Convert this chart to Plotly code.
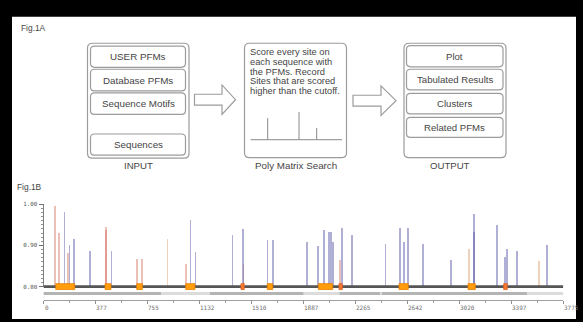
import plotly.graph_objects as go

# ---------------- data ----------------
blue_pos = [149, 185, 221, 335, 490, 1064, 1100, 1369, 1442, 1623, 1662, 1908, 1993, 2032, 2068, 2084,
            2097, 2163, 2235, 2480, 2583, 2616, 2645, 2750, 2956, 3126, 3126, 3293, 3346, 3364, 3434, 3656]
blue_score = [0.980, 0.901, 0.914, 0.886, 0.885, 0.961, 0.884, 0.924, 0.940, 0.913, 0.912, 0.908, 0.899,
              0.936, 0.933, 0.932, 0.907, 0.941, 0.924, 0.902, 0.941, 0.908, 0.941, 0.904, 0.865, 0.975,
              0.933, 0.950, 0.872, 0.892, 0.886, 0.900]
pink_pos = [83, 110, 176, 447, 452, 672, 715, 1033, 1449, 2153]
pink_score = [0.995, 0.930, 0.882, 0.945, 0.938, 0.866, 0.867, 0.854, 0.854, 0.864]
tan_pos = [897, 3084, 3593]
tan_score = [0.916, 0.892, 0.861]

# exon-like boxes on the sequence line (start, end)
box_start = [89, 447, 677, 1033, 1625, 1996, 2582, 3083]
box_end = [227, 490, 718, 1100, 1665, 2100, 2649, 3136]
mark_start = [1434, 2146, 3342]
mark_end = [1458, 2170, 3368]

# darker gray segments under the sequence line (start, end)
seg_start = [0, 1209, 2151, 2458]
seg_end = [853, 1887, 2444, 3511]

seq_len = 3775
x_tick_labels = ["0", "377", "755", "1132", "1510", "1887", "2265", "2642", "3020", "3397", "3775"]
y_tick_vals = [0.80, 0.90, 1.00]
y_tick_text = ["0.80", "0.90", "1.00"]

input_items = ["USER PFMs", "Database PFMs", "Sequence Motifs", "Sequences"]
output_items = ["Plot", "Tabulated Results", "Clusters", "Related PFMs"]
search_text = ["Score every site on", "each sequence with", "the PFMs. Record",
               "Sites that are scored", "higher than the cutoff."]

# ---------------- helpers (pixel -> paper) ----------------
W, H = 583, 322


def X(x):
    return x / W


def Y(y):
    return 1 - y / H


def rrect(x0, y0, x1, y1, r):
    p = (f"M {X(x0 + r)},{Y(y0)} L {X(x1 - r)},{Y(y0)} Q {X(x1)},{Y(y0)} {X(x1)},{Y(y0 + r)} "
         f"L {X(x1)},{Y(y1 - r)} Q {X(x1)},{Y(y1)} {X(x1 - r)},{Y(y1)} "
         f"L {X(x0 + r)},{Y(y1)} Q {X(x0)},{Y(y1)} {X(x0)},{Y(y1 - r)} "
         f"L {X(x0)},{Y(y0 + r)} Q {X(x0)},{Y(y0)} {X(x0 + r)},{Y(y0)} Z")
    return p


def arrow(x0, xh, xt, yc, bh, hh):
    pts = [(x0, yc - bh), (xh, yc - bh), (xh, yc - hh), (xt, yc), (xh, yc + hh), (xh, yc + bh), (x0, yc + bh)]
    return "M " + " L ".join(f"{X(a)},{Y(b)}" for a, b in pts) + " Z"


shapes = []
annos = []
FONT = "Liberation Sans, Arial, sans-serif"
TXT = "#454545"
BOX = "#9c9c9c"

# page frame: white area inside a black border
shapes.append(dict(type="rect", xref="paper", yref="paper", x0=X(12), x1=X(576), y0=Y(322), y1=Y(14),
                   fillcolor="white", line=dict(width=0), layer="below"))

# ---------- Fig 1A ----------
annos.append(dict(text="Fig.1A", x=X(19), y=Y(25), xref="paper", yref="paper", xanchor="left",
                  yanchor="middle", showarrow=False, font=dict(family=FONT, size=8.4, color=TXT)))

# INPUT group
shapes.append(dict(type="path", xref="paper", yref="paper", path=rrect(87.5, 41, 189, 158, 5),
                   line=dict(color=BOX, width=1.2), fillcolor="white"))
in_rows = [(44, 65.5), (67.5, 89.5), (91.5, 113.5), (133.5, 155)]
for label, (a, b) in zip(input_items, in_rows):
    shapes.append(dict(type="path", xref="paper", yref="paper", path=rrect(90.5, a, 185.5, b, 4),
                       line=dict(color=BOX, width=1.2), fillcolor="white"))
    annos.append(dict(text=label, x=X(138), y=Y((a + b) / 2), xref="paper", yref="paper", showarrow=False,
                      xanchor="center", yanchor="middle", font=dict(family=FONT, size=9.8, color=TXT)))
annos.append(dict(text="INPUT", x=X(138), y=Y(166), xref="paper", yref="paper", showarrow=False,
                  xanchor="center", yanchor="middle", font=dict(family=FONT, size=9.6, color=TXT)))

# arrows
shapes.append(dict(type="path", xref="paper", yref="paper", path=arrow(194.5, 222, 235.5, 98.5, 5.5, 15),
                   line=dict(color=BOX, width=1.2), fillcolor="white"))
shapes.append(dict(type="path", xref="paper", yref="paper", path=arrow(353, 381, 396, 99.5, 5.5, 15),
                   line=dict(color=BOX, width=1.2), fillcolor="white"))

# search box
shapes.append(dict(type="path", xref="paper", yref="paper", path=rrect(244.5, 41, 346.5, 157.5, 5),
                   line=dict(color=BOX, width=1.2), fillcolor="white"))
for i, line in enumerate(search_text):
    annos.append(dict(text=line, x=X(248.5), y=Y(50.2 + i * 9.9), xref="paper", yref="paper", showarrow=False,
                      xanchor="left", yanchor="middle", borderpad=0,
                      font=dict(family=FONT, size=9.3, color=TXT)))
# little icon of a score plot
shapes.append(dict(type="line", xref="paper", yref="paper", x0=X(250.5), x1=X(342), y0=Y(139.3), y1=Y(139.3),
                   line=dict(color="#8a8a8a", width=1)))
for sx, st in [(267.7, 117.3), (299, 111), (316.7, 127.3)]:
    shapes.append(dict(type="line", xref="paper", yref="paper", x0=X(sx), x1=X(sx), y0=Y(139.3), y1=Y(st),
                       line=dict(color="#8a8a8a", width=1)))
annos.append(dict(text="Poly Matrix Search", x=X(295.5), y=Y(166), xref="paper", yref="paper", showarrow=False,
                  xanchor="center", yanchor="middle", font=dict(family=FONT, size=9.8, color=TXT)))

# OUTPUT group
shapes.append(dict(type="path", xref="paper", yref="paper", path=rrect(404, 41, 506, 157.5, 5),
                   line=dict(color=BOX, width=1.2), fillcolor="white"))
out_rows = [(43.5, 65), (67.5, 88.5), (92, 113), (116.5, 137)]
for label, (a, b) in zip(output_items, out_rows):
    shapes.append(dict(type="path", xref="paper", yref="paper", path=rrect(406.5, a, 503, b, 4),
                       line=dict(color=BOX, width=1.2), fillcolor="white"))
    annos.append(dict(text=label, x=X(454.8), y=Y((a + b) / 2), xref="paper", yref="paper", showarrow=False,
                      xanchor="center", yanchor="middle", font=dict(family=FONT, size=9.6, color=TXT)))
annos.append(dict(text="OUTPUT", x=X(450), y=Y(166), xref="paper", yref="paper", showarrow=False,
                  xanchor="center", yanchor="middle", font=dict(family=FONT, size=9.6, color=TXT)))

# ---------- Fig 1B ----------
annos.append(dict(text="Fig.1B", x=X(15), y=Y(187), xref="paper", yref="paper", xanchor="left",
                  yanchor="middle", showarrow=False, font=dict(family=FONT, size=8.4, color=TXT)))

BAR_W = 14
fig = go.Figure()
fig.add_trace(go.Bar(x=tan_pos, y=[s - 0.80 for s in tan_score], base=0.80, width=BAR_W,
                     marker=dict(color="rgba(215,155,110,0.45)", line=dict(width=0)), name="tan"))
fig.add_trace(go.Bar(x=pink_pos, y=[s - 0.80 for s in pink_score], base=0.80, width=BAR_W,
                     marker=dict(color="rgba(210,115,95,0.45)", line=dict(width=0)), name="pink"))
fig.add_trace(go.Bar(x=blue_pos, y=[s - 0.80 for s in blue_score], base=0.80, width=BAR_W,
                     marker=dict(color="rgba(90,90,170,0.48)", line=dict(width=0)), name="blue"))

# gray band under the sequence
shapes.append(dict(type="rect", xref="x", yref="paper", x0=0, x1=seq_len, y0=Y(297.6), y1=Y(294.4),
                   fillcolor="#dcdcdc", line=dict(width=0)))
for a, b in zip(seg_start, seg_end):
    shapes.append(dict(type="rect", xref="x", yref="paper", x0=a, x1=b, y0=Y(297.6), y1=Y(294.4),
                       fillcolor="#b4b4b4", line=dict(width=0)))

# sequence line
shapes.append(dict(type="line", xref="x", yref="paper", x0=0, x1=seq_len, y0=Y(289), y1=Y(289),
                   line=dict(color="#555555", width=2.6)))
for a, b in zip(box_start, box_end):
    shapes.append(dict(type="rect", xref="x", yref="paper", x0=a, x1=b, y0=Y(292), y1=Y(286),
                       fillcolor="#ff9d0a", line=dict(color="#e87d00", width=0.8)))
for a, b in zip(mark_start, mark_end):
    shapes.append(dict(type="rect", xref="x", yref="paper", x0=a, x1=b, y0=Y(292), y1=Y(286),
                       fillcolor="#f47a30", line=dict(color="#e06020", width=0.8)))

# x tick labels, left aligned at their ticks
tick_vals = [i * seq_len / 10 for i in range(len(x_tick_labels))]
for v, t in zip(tick_vals, x_tick_labels):
    annos.append(dict(text=t, x=v, y=Y(309.8), xref="x", yref="paper", xanchor="left", yanchor="middle",
                      showarrow=False, xshift=-1,
                      font=dict(family="DejaVu Sans Mono, monospace", size=6.0, color="#707070")))

fig.update_layout(
    width=W, height=H, autosize=False,
    margin=dict(l=0, r=0, t=0, b=0),
    paper_bgcolor="black", plot_bgcolor="white",
    barmode="overlay", showlegend=False, bargap=0,
    shapes=shapes, annotations=annos,
    xaxis=dict(domain=[X(43.5), X(563.3)], range=[0, seq_len], anchor="free", position=Y(302.5),
               showgrid=False, zeroline=False, showline=True, linecolor="#a0a0a0", linewidth=1,
               tickmode="array", tickvals=tick_vals, showticklabels=False,
               ticks="outside", ticklen=3, tickcolor="#909090", tickwidth=1,
               minor=dict(tick0=seq_len / 20, dtick=seq_len / 10, ticks="outside", ticklen=2,
                          tickcolor="#a0a0a0")),
    yaxis=dict(domain=[Y(289), Y(205)], range=[0.80, 1.00], showgrid=False, zeroline=False,
               showline=True, linecolor="#808080", linewidth=1,
               tickmode="array", tickvals=y_tick_vals, ticktext=y_tick_text,
               ticks="outside", ticklen=4, tickcolor="#707070",
               tickfont=dict(family="DejaVu Sans Mono, monospace", size=5.8, color="#555555"),
               minor=dict(dtick=0.01, tick0=0.80, ticks="outside", ticklen=2, tickcolor="#909090")),
)

fig.write_html("out.html", config={"displayModeBar": False},
               post_script="document.body.style.margin='0px';document.body.style.overflow='hidden';")
